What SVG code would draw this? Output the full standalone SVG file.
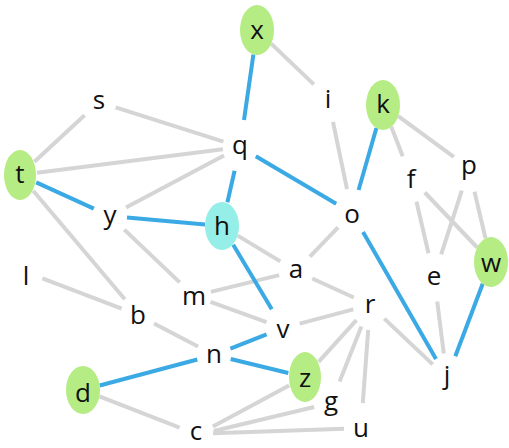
<svg xmlns="http://www.w3.org/2000/svg" width="509" height="448" viewBox="0 0 509 448">
<style>
.e{stroke:#d5d5d5;stroke-width:4;fill:none}
.b{stroke:#3aa9e4;stroke-width:4;fill:none}
.g{fill:#b6ec84}
.c{fill:#95efe8}
text{font-family:"Open Sans","DejaVu Sans",sans-serif;font-size:26px;fill:#111;text-anchor:middle}
</style>
<rect width="509" height="448" fill="#fff"/>
<g id="edges">
<line class="e" x1="84.6" y1="115.3" x2="34.4" y2="161.7"/>
<line class="e" x1="115.6" y1="107.3" x2="223.4" y2="141.7"/>
<line class="e" x1="37" y1="172.8" x2="223" y2="149.2"/>
<line class="e" x1="126" y1="207.5" x2="224" y2="155.5"/>
<line class="e" x1="33.2" y1="190.7" x2="124.8" y2="299.3"/>
<line class="e" x1="271.2" y1="43.6" x2="313.8" y2="84.4"/>
<line class="e" x1="333" y1="121.9" x2="347" y2="189.1"/>
<line class="e" x1="391.3" y1="126.8" x2="402.7" y2="156.2"/>
<line class="e" x1="398.2" y1="116.2" x2="453.8" y2="156.8"/>
<line class="e" x1="424.8" y1="192.5" x2="477.2" y2="247.5"/>
<line class="e" x1="416.5" y1="201.7" x2="428.5" y2="253.3"/>
<line class="e" x1="461.8" y1="190.6" x2="441.2" y2="254.4"/>
<line class="e" x1="474.5" y1="191.7" x2="485.5" y2="238.3"/>
<line class="e" x1="437.2" y1="301.5" x2="443.8" y2="353.5"/>
<line class="e" x1="124.3" y1="229.6" x2="179.7" y2="282.4"/>
<line class="e" x1="237.7" y1="235.6" x2="280.3" y2="261.4"/>
<line class="e" x1="309.9" y1="256.6" x2="338.1" y2="227.4"/>
<line class="e" x1="279.2" y1="275.1" x2="210.8" y2="291.9"/>
<line class="e" x1="312.2" y1="278.5" x2="353.8" y2="297.5"/>
<line class="e" x1="210.5" y1="301.9" x2="266.5" y2="322.1"/>
<line class="e" x1="299.7" y1="323.6" x2="353.3" y2="309.4"/>
<line class="e" x1="384.3" y1="318.6" x2="432.7" y2="364.4"/>
<line class="e" x1="356.4" y1="320.1" x2="318.6" y2="361.9"/>
<line class="e" x1="361.4" y1="326.6" x2="339.6" y2="381.4"/>
<line class="e" x1="368.2" y1="329.9" x2="362.8" y2="403.1"/>
<line class="e" x1="212.9" y1="426.4" x2="289.1" y2="385.6"/>
<line class="e" x1="213.8" y1="431" x2="314.2" y2="407"/>
<line class="e" x1="213" y1="433.3" x2="344" y2="428.7"/>
<line class="e" x1="99.4" y1="396.4" x2="179.6" y2="427.6"/>
<line class="e" x1="154" y1="323.4" x2="198" y2="346.6"/>
<line class="e" x1="42.4" y1="278.3" x2="121.6" y2="308.7"/>
<line class="b" x1="253.4" y1="54.5" x2="244" y2="120"/>
<line class="b" x1="234.6" y1="170.7" x2="227.4" y2="202.3"/>
<line class="b" x1="255.8" y1="156.3" x2="336.2" y2="203.7"/>
<line class="b" x1="36.2" y1="182.4" x2="93.8" y2="208.6"/>
<line class="b" x1="127" y1="217.5" x2="205" y2="224.5"/>
<line class="b" x1="233.2" y1="244.8" x2="271.8" y2="309.2"/>
<line class="b" x1="376.4" y1="128" x2="358.6" y2="190"/>
<line class="b" x1="363" y1="232.1" x2="436" y2="358.9"/>
<line class="b" x1="482.7" y1="283.8" x2="455.3" y2="356.2"/>
<line class="b" x1="99.7" y1="385.5" x2="197.3" y2="359.5"/>
<line class="b" x1="230.4" y1="348.6" x2="266.6" y2="334.4"/>
<line class="b" x1="230.7" y1="359" x2="288.3" y2="373"/>
</g>
<g id="node-x"><ellipse class="g" cx="257" cy="30" rx="17" ry="25"/><text x="257" y="39">x</text></g>
<g id="node-s"><text x="99" y="109">s</text></g>
<g id="node-q"><text x="240" y="154">q</text></g>
<g id="node-i"><text x="328" y="108">i</text></g>
<g id="node-k"><ellipse class="g" cx="383" cy="105" rx="17" ry="25"/><text x="383" y="113">k</text></g>
<g id="node-f"><text x="411" y="188">f</text></g>
<g id="node-p"><text x="469" y="174">p</text></g>
<g id="node-t"><ellipse class="g" cx="20" cy="175" rx="16" ry="25"/><text x="20" y="183">t</text></g>
<g id="node-o"><text x="352" y="223">o</text></g>
<g id="node-y"><text x="110" y="224">y</text></g>
<g id="node-h"><ellipse class="c" cx="222" cy="226" rx="17" ry="24"/><text x="222" y="235">h</text></g>
<g id="node-l"><text x="26" y="285">l</text></g>
<g id="node-w"><ellipse class="g" cx="491" cy="262" rx="17" ry="25"/><text x="491" y="272">w</text></g>
<g id="node-e"><text x="434" y="285">e</text></g>
<g id="node-a"><text x="296" y="278">a</text></g>
<g id="node-m"><text x="194" y="305">m</text></g>
<g id="node-b"><text x="138" y="324">b</text></g>
<g id="node-r"><text x="370" y="313">r</text></g>
<g id="node-v"><text x="283" y="338">v</text></g>
<g id="node-n"><text x="214" y="363">n</text></g>
<g id="node-j"><text x="447" y="384">j</text></g>
<g id="node-d"><ellipse class="g" cx="83" cy="390" rx="17" ry="24"/><text x="83" y="402">d</text></g>
<g id="node-z"><ellipse class="g" cx="305" cy="377" rx="16" ry="25"/><text x="305" y="387">z</text></g>
<g id="node-g"><text x="331" y="410">g</text></g>
<g id="node-c"><text x="196" y="440">c</text></g>
<g id="node-u"><text x="361" y="437">u</text></g>
</svg>
